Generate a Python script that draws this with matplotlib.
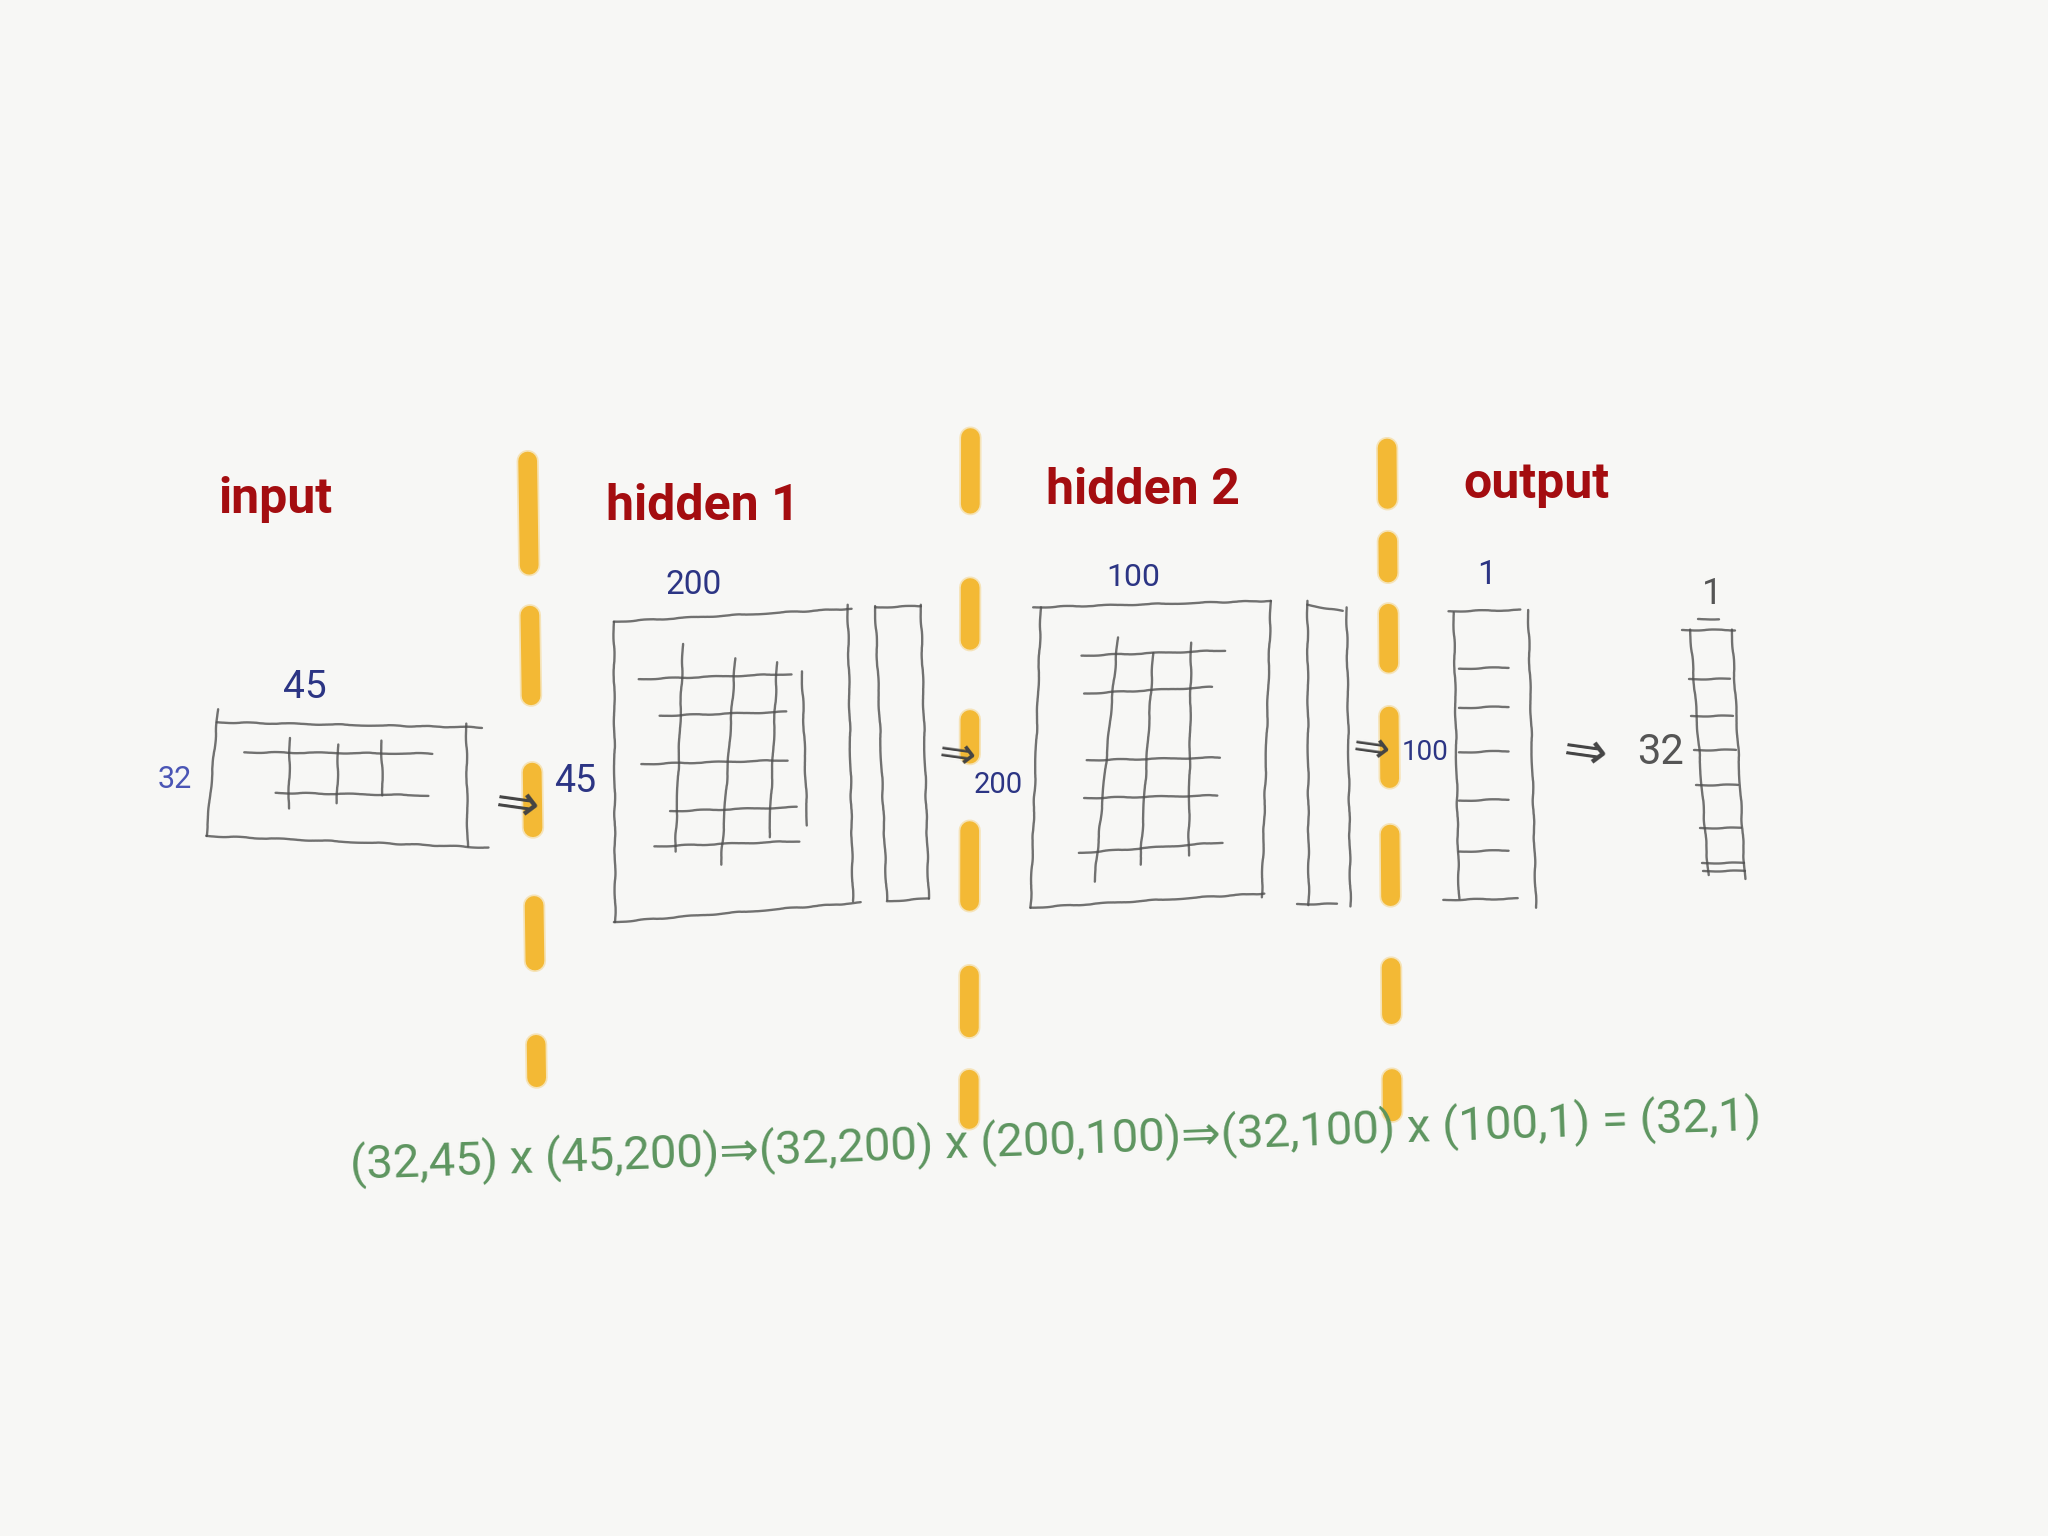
import numpy as np
import matplotlib
matplotlib.use("Agg")
import matplotlib.pyplot as plt

# network sketch: layer names and matrix shapes
layer_names = ["input", "hidden 1", "hidden 2", "output"]
batch_size = 32
layer_sizes = [45, 200, 100, 1]
top_labels = ["45", "200", "100", "1"]      # written above each block
side_labels = ["32", "45", "200", "100"]    # written left of each block
result_label = "32"
result_top = "1"

# equation along the bottom, built from the shapes
shapes = [(batch_size, layer_sizes[0])]
for a, b in zip(layer_sizes[:-1], layer_sizes[1:]):
    shapes.append((a, b))
fmt = lambda s: "(%d,%d)" % s
equation = fmt(shapes[0])
for i, w in enumerate(shapes[1:]):
    equation += " x " + fmt(w)
    res = (batch_size, w[1])
    equation += (" = " if i == len(shapes) - 2 else "\u21d2") + fmt(res)

bg = "#f7f7f5"
red = "#a40d10"
navy = "#2c3584"
blue = "#4a55b5"
green = "#5d955f"
pencil = "#4f4f4f"
yellow = "#f3b72e"

plt.rcParams['lines.scale_dashes'] = False
hand = ['Roboto', 'DejaVu Sans']

W, H = 1568, 1176
fig = plt.figure(figsize=(20.48, 15.36), dpi=100, facecolor=bg)
ax = fig.add_axes([0, 0, 1, 1])
ax.set_facecolor(bg)
ax.set_xlim(0, W)
ax.set_ylim(H, 0)
ax.axis('off')


def pen(x0, y0, x1, y1, lw=1.7, alpha=0.8):
    ln, = ax.plot([x0, x1], [y0, y1], color=pencil, lw=lw, alpha=alpha,
                  solid_capstyle='round')
    ln.set_sketch_params(0.5, 60, 4)


# yellow dashed separators (x top, x bottom, y top, y bottom, dash pattern)
seps = [
    (404, 411, 353, 835, [75, 36, 58, 55, 40, 56, 40, 60, 24, 300]),
    (743, 742, 335, 865, [48, 60, 38, 57, 25, 55, 51, 53, 38, 37, 29, 300]),
    (1062, 1066, 343, 860, [37, 30, 23, 29, 36, 38, 45, 40, 45, 51, 34, 46, 24, 300]),
]
for xt, xb, yt, yb, dash in seps:
    ax.plot([xt, xb], [yt, yb], color=yellow, lw=16, alpha=0.3,
            linestyle=(0, dash), dash_capstyle='round', zorder=1)
    ax.plot([xt, xb], [yt, yb], color=yellow, lw=13.5, alpha=0.95,
            linestyle=(0, dash), dash_capstyle='round', zorder=1)

# layer titles
title_pos = [(211, 393), (538, 398), (875, 386), (1176, 381)]
for name, (x, y) in zip(layer_names, title_pos):
    ax.text(x, y, name, color=red, fontsize=36, fontweight='bold',
            family=hand, ha='center', va='baseline', zorder=3)

# input block
pen(166, 553, 369, 557)
pen(167, 543, 158, 640)
pen(158, 640, 374, 649)
pen(357, 554, 358, 648)
pen(187, 576, 331, 577)
pen(211, 607, 328, 609)
pen(222, 565, 221, 619)
pen(259, 570, 258, 615)
pen(292, 567, 293, 609)

# hidden 1 weights + bias
pen(470, 476, 652, 466)
pen(470, 476, 471, 706)
pen(649, 463, 653, 690)
pen(470, 706, 659, 691)
for y0, y1, xa, xb in [(520, 516, 489, 606), (548, 545, 505, 602), (585, 582, 491, 603),
                       (621, 618, 513, 610), (648, 644, 501, 612)]:
    pen(xa, y0, xb, y1)
for xa, ya, xb, yb in [(523, 493, 517, 652), (563, 504, 552, 662),
                       (595, 507, 589, 641), (614, 514, 618, 632)]:
    pen(xa, ya, xb, yb)
pen(670, 464, 679, 689)
pen(670, 465, 705, 464)
pen(705, 463, 711, 688)
pen(679, 690, 711, 688)

# hidden 2 weights + bias
pen(791, 465, 973, 460)
pen(797, 465, 789, 695)
pen(973, 460, 966, 687)
pen(789, 695, 968, 684)
for xa, ya, xb, yb in [(828, 502, 938, 498), (830, 531, 928, 526), (832, 582, 934, 580),
                       (830, 611, 932, 609), (826, 653, 936, 645)]:
    pen(xa, ya, xb, yb)
for xa, ya, xb, yb in [(856, 488, 838, 675), (883, 500, 873, 662), (912, 492, 910, 655)]:
    pen(xa, ya, xb, yb)
pen(1001, 460, 1002, 693)
pen(1031, 465, 1034, 694)
pen(1001, 463, 1028, 468)
pen(993, 692, 1024, 692)

# output weights column
pen(1113, 469, 1117, 688)
pen(1170, 467, 1176, 695)
pen(1109, 468, 1164, 467)
pen(1105, 689, 1162, 688)
for y in [512, 542, 576, 613, 652]:
    pen(1117, y, 1155, y - 1)

# result column (32 x 1)
pen(1294, 482, 1308, 670)
pen(1326, 482, 1336, 673)
pen(1288, 482, 1328, 482)
pen(1300, 474, 1316, 474)
for y in [520, 548, 574, 601, 634, 661, 667]:
    xl = 1294 + (y - 482) * 14 / 188
    pen(xl - 4, y, xl + 28, y)

# arrows between blocks
for x, y, s in [(396, 617, 38), (733, 578, 32), (1050, 573, 32), (1214, 577, 38)]:
    ax.text(x, y, "\u21d2", color="#444444", fontsize=s, ha='center', va='center',
            rotation=-8, zorder=3)

# dimension labels
top_pos = [(233, 526, 28), (531, 448, 24), (868, 442, 23), (1138, 440, 24)]
for lab, (x, y, s) in zip(top_labels, top_pos):
    ax.text(x, y, lab, color=navy, fontsize=s, family=hand, ha='center', va='center')
side_pos = [(134, 597, 22), (440, 598, 27), (764, 601, 21), (1091, 576, 20)]
for i, (lab, (x, y, s)) in enumerate(zip(side_labels, side_pos)):
    ax.text(x, y, lab, color=blue if i == 0 else navy, fontsize=s, family=hand,
            ha='center', va='center')
ax.text(1271, 576, result_label, color="#555555", fontsize=30, family=hand,
        ha='center', va='center')
ax.text(1311, 455, result_top, color="#555555", fontsize=26, family=hand,
        ha='center', va='center')

# shape equation
ax.text(808, 873, equation, color=green, fontsize=34, family=hand,
        ha='center', va='center', rotation=2, rotation_mode='anchor')

fig.savefig("out.png", dpi=100, facecolor=bg)
